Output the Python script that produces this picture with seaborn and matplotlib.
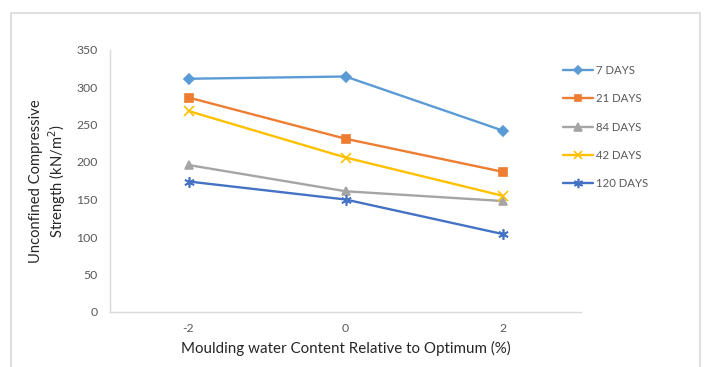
import matplotlib
matplotlib.use("Agg")
import matplotlib.pyplot as plt
import seaborn as sns
import pandas as pd
from matplotlib.patches import Rectangle

# Moulding water content relative to optimum (%)
water_content = [-2, 0, 2]
tick_labels = ["-2", "0", "2"]

# Unconfined compressive strength (kN/m²) per curing period
days_7 = [311, 314, 242]
days_21 = [286, 231, 187]
days_84 = [196, 161, 148]
days_42 = [268, 206, 155]
days_120 = [174, 150, 104]

series_names = ["7 DAYS", "21 DAYS", "84 DAYS", "42 DAYS", "120 DAYS"]
series_values = [days_7, days_21, days_84, days_42, days_120]
colors = ["#5B9BD5", "#ED7D31", "#A5A5A5", "#FFC000", "#4472C4"]
markers = ["D", "s", "^", "x", (6, 2, 0)]
marker_sizes = [5, 5.5, 6, 7, 7.5]

sns.set_theme(style="white")
plt.rcParams["font.family"] = ["Lato", "DejaVu Sans"]

fig = plt.figure(figsize=(7.05, 3.67), dpi=100)
ax = fig.add_axes([110 / 705, 55 / 367, 471 / 705, 262.5 / 367])

for name, vals, col, mk, ms in zip(series_names, series_values, colors, markers, marker_sizes):
    d = pd.DataFrame({"Water": water_content, "UCS": vals})
    sns.lineplot(data=d, x="Water", y="UCS", color=col, marker=mk,
                 markersize=ms, markeredgecolor=col, markeredgewidth=1.2,
                 linewidth=1.7, label=name, ax=ax)

ax.set_xlim(-3, 3)
ax.set_ylim(0, 350)
ax.set_xticks(water_content)
ax.set_xticklabels(tick_labels)
ax.set_yticks(range(0, 351, 50))
ax.tick_params(axis="both", length=0, labelsize=8.8, labelcolor="#595959", pad=8)
ax.tick_params(axis="y", pad=9)

for side in ["top", "right"]:
    ax.spines[side].set_visible(False)
for side in ["left", "bottom"]:
    ax.spines[side].set_color("#D9D9D9")
    ax.spines[side].set_linewidth(1)

ax.set_xlabel("Moulding water Content Relative to Optimum (%)", fontsize=10.9,
              color="#262626", labelpad=5)
ax.set_ylabel("Unconfined Compressive\nStrength (kN/m$^{2}$)", fontsize=10.6,
              color="#262626", labelpad=6)

handles, labels = ax.get_legend_handles_labels()
leg = ax.legend(handles, labels, loc="upper left",
                bbox_to_anchor=(553 / 705, (367 - 55) / 367),
                bbox_transform=fig.transFigure, frameon=False, fontsize=8.2,
                handlelength=2.6, labelspacing=1.51, handletextpad=0.3,
                markerscale=0.9)
for t in leg.get_texts():
    t.set_color("#595959")

# Chart area border
fig.patches.append(Rectangle((11 / 705, -0.05), (700 - 11) / 705, (367 - 12.5) / 367 + 0.05,
                             transform=fig.transFigure, fill=False,
                             edgecolor="#D9D9D9", linewidth=1.2))

fig.savefig("out.png", dpi=100)
